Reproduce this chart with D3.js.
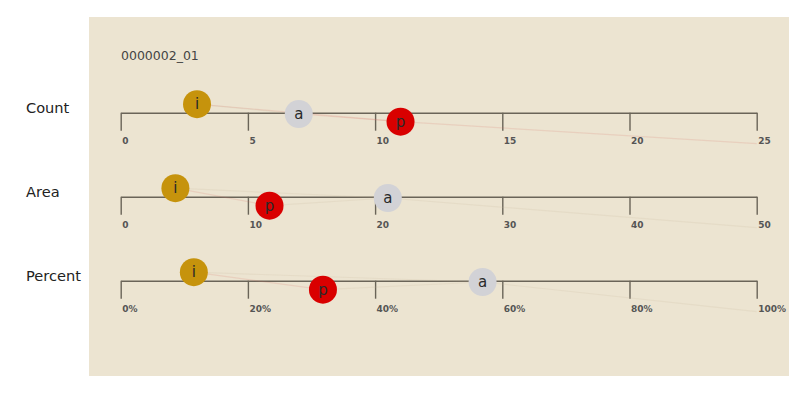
<!DOCTYPE html>
<html>
<head>
<meta charset="utf-8">
<script src="https://cdn.jsdelivr.net/npm/d3@7"></script>
<style>
  body { margin: 0; background: #fff; }
  text { font-family: "DejaVu Sans", sans-serif; }
</style>
</head>
<body>
<svg id="chart"></svg>
<script>
// Data
const title = "0000002_01";
const categories = ["i", "a", "p"];
const countValues = [3, 7, 11];
const areaValues = [4.3, 21.0, 11.7];
const percentValues = [11.5, 56.9, 31.8];

const countTicks = [0, 5, 10, 15, 20, 25];
const areaTicks = [0, 10, 20, 30, 40, 50];
const percentTicks = [0, 20, 40, 60, 80, 100];

const rows = [
  { label: "Count", values: countValues, ticks: countTicks, fmt: (d) => d },
  { label: "Area", values: areaValues, ticks: areaTicks, fmt: (d) => d },
  { label: "Percent", values: percentValues, ticks: percentTicks, fmt: (d) => d + "%" }
];

const width = 809;
const height = 397;
const x0 = 120.7;
const x1 = 756.7;
const rowY = [112.7, 196.7, 280.7];
const radius = 14;

const colors = { i: "#c6930c", a: "#d2d2d6", p: "#d90000" };
const offsets = { i: -8.5, a: 1.3, p: 9 };

const svg = d3.select("#chart").attr("width", width).attr("height", height);

// Panel background
svg.append("rect")
  .attr("x", 89)
  .attr("y", 17)
  .attr("width", 700)
  .attr("height", 359)
  .attr("fill", "#ece4d1");

svg.append("text")
  .attr("x", 121)
  .attr("y", 60)
  .attr("font-size", 12.5)
  .attr("fill", "#444")
  .text(title);

rows.forEach((row, r) => {
  const y = rowY[r];
  const max = row.ticks[row.ticks.length - 1];
  const xScale = d3.scaleLinear().domain([0, max]).range([x0, x1]);

  // Row label
  svg.append("text")
    .attr("x", 26)
    .attr("y", y)
    .attr("font-size", 14.6)
    .attr("fill", "#222")
    .text(row.label);

  // Axis
  const axis = d3.axisBottom(xScale)
    .tickValues(row.ticks)
    .tickFormat(row.fmt)
    .tickSize(18)
    .tickSizeOuter(0);

  const g = svg.append("g")
    .attr("transform", `translate(0, ${y})`)
    .call(axis);

  g.select(".domain").attr("stroke", "#6a6458").attr("stroke-width", 1.4);
  g.selectAll(".tick line").attr("stroke", "#6a6458").attr("stroke-width", 1.4);
  g.selectAll(".tick text")
    .attr("text-anchor", "start")
    .attr("x", 1)
    .attr("y", 31)
    .attr("dy", 0)
    .attr("font-family", "DejaVu Sans, sans-serif")
    .attr("font-size", 9)
    .attr("font-weight", "bold")
    .attr("fill", "#555");

  // Points
  const pts = categories.map((c, i) => ({
    cat: c,
    x: xScale(row.values[i]),
    y: y + offsets[c],
    v: row.values[i]
  }));
  const sorted = pts.slice().sort((a, b) => a.v - b.v);

  // Faint connecting lines
  const links = [];
  sorted.forEach((a, i) => {
    sorted.slice(i + 1).forEach((b) => links.push([a, b]));
  });
  const last = sorted[sorted.length - 1];
  links.push([last, { cat: last.cat, x: xScale(max), y: y + 31 }]);

  svg.selectAll(null)
    .data(links)
    .enter()
    .append("line")
    .attr("x1", (d) => d[0].x)
    .attr("y1", (d) => d[0].y)
    .attr("x2", (d) => d[1].x)
    .attr("y2", (d) => d[1].y)
    .attr("stroke", (d) => d[1].cat === "p" ? "#d9776a" : "#c9b89a")
    .attr("stroke-opacity", 0.18)
    .attr("stroke-width", 1.2);

  const nodes = svg.selectAll(null)
    .data(pts)
    .enter()
    .append("g")
    .attr("transform", (d) => `translate(${d.x}, ${d.y})`);

  nodes.append("circle")
    .attr("r", radius)
    .attr("fill", (d) => colors[d.cat]);

  nodes.append("text")
    .attr("text-anchor", "middle")
    .attr("dy", 5)
    .attr("font-size", 15)
    .attr("fill", "#2a2a2a")
    .text((d) => d.cat);
});
</script>
</body>
</html>
